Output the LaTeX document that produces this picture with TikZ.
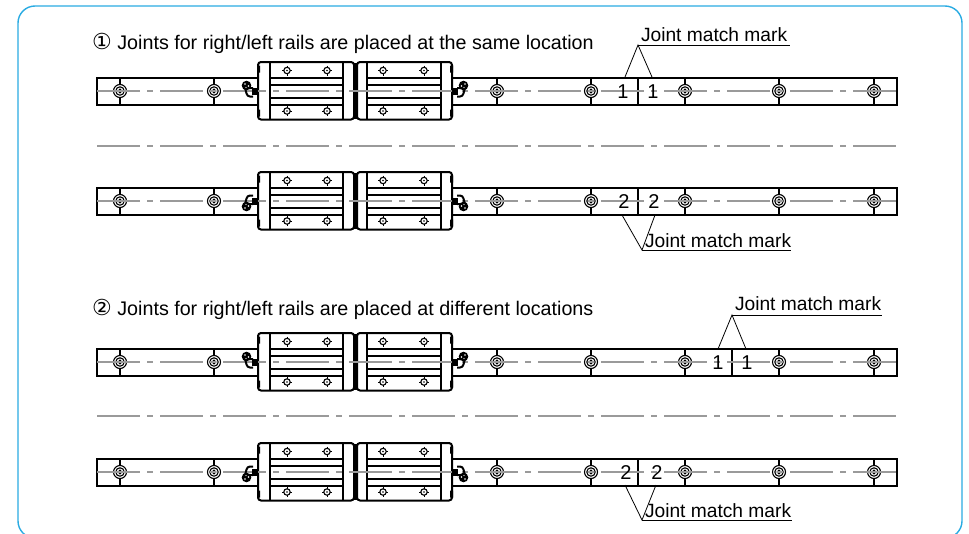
\documentclass[tikz,border=0pt]{standalone}
\usepackage{fontspec}
\setmainfont{Liberation Sans}
\newfontfamily\symfont{DejaVu Sans}
\definecolor{framecol}{HTML}{29ABE2}
\definecolor{centercol}{HTML}{9A9A9A}
\tikzset{
  outline/.style={line width=2pt,black},
  thinline/.style={line width=1.1pt,black},
  centerline/.style={line width=1.6pt,color=centercol,dash pattern=on 43pt off 7pt on 6pt off 7pt},
  leader/.style={line width=.8pt,black},
  caption/.style={font=\fontsize{19.7}{22}\selectfont,anchor=west,inner sep=0pt},
  digit/.style={font=\fontsize{20}{22}\selectfont,inner sep=0pt},
  jointlabel/.style={font=\fontsize{19.2}{22}\selectfont,anchor=south west,inner sep=0pt,outer sep=0pt},
}
\begin{document}
\begin{tikzpicture}[x=1pt,y=-1pt]
  \useasboundingbox (0,0) rectangle (969,533);
  \def\Bolt[#1,#2]{%
    \draw[thinline](#1,#2-13.5)--(#1,#2+14);
    \draw[thinline,fill=white](#1,#2) circle (6.5);
    \draw[thinline](#1,#2) circle (4.2);
    \draw[thinline](#1,#2) circle (1.8);
  }
  \def\Screw[#1,#2]{%
    \draw[thinline,fill=white](#1,#2) circle (3.2);
    \draw[line width=.8pt](#1-5,#2)--(#1-3.2,#2) (#1+3.2,#2)--(#1+5,#2)
                   (#1,#2-5)--(#1,#2-3.2) (#1,#2+3.2)--(#1,#2+5);
    \fill(#1,#2) circle (.8);
  }
  \def\Nipple[#1,#2,#3,#4]{% x, centre y, xscale, yscale
    \begin{scope}[shift={(#1,#2)},xscale=#3,yscale=#4]
      \fill(0,-3.5)rectangle(-6,3.5);
      \draw[outline](-5,-3)--(-13,-3) (-5,5.5)--(-8,5.5) to[out=180,in=-70] (-13,-3);
      \fill[black](-11.5,-5.5) circle (4.8);
      \fill[white](-13,-7) circle (.8) (-9.5,-5) circle (.8) (-12,-3.5) circle (.6);
    \end{scope}
  }
  \def\Block[#1]{% one pair of blocks, centre y
    \foreach \xa/\xb in{258/354, 357/452}{
      \draw[outline,rounded corners=3pt,fill=white](\xa,#1-29)rectangle(\xb,#1+28.5);
    }
    \fill(257,#1-25.5)rectangle(260,#1-18.5) (257,#1+18.5)rectangle(260,#1+25.5)
         (450,#1-25.5)rectangle(453,#1-18.5) (450,#1+18.5)rectangle(453,#1+25.5);
    \fill(353,#1-28.5)rectangle(357,#1+27.5);
    \foreach \x in{270,343,367,441}{
      \draw[outline](\x,#1-29)--(\x,#1+28.5);
    }
    \foreach \xa/\xb in{270/343, 367/441}{
      \draw[outline](\xa,#1-13)--(\xb,#1-13) (\xa,#1+14)--(\xb,#1+14);
      \draw[outline](\xa,#1-6)--(\xb,#1-6) (\xa,#1+6.5)--(\xb,#1+6.5);
    }
    \foreach \x in{287,327,383,424}{
      \Screw[\x,#1-20.5]
      \Screw[\x,#1+20]
    }
  }
  \def\Rail[#1,#2,#3]{% centre y, joint x, nipple yscale
    \draw[outline](97,#1-13.5)rectangle(897,#1+14);
    \draw[outline](#2,#1-13.5)--(#2,#1+14);
    \draw[centerline](97,#1)--(897,#1);
    \foreach \x in{120,214,497,591,685,779,874}{
      \Bolt[\x,#1]
    }
    \Block[#1]
    \draw[centerline](97,#1)--(897,#1);
    \Nipple[258,#1,1,#3]
    \Nipple[452,#1,-1,#3]
  }
  % outer frame, cut by the page at the bottom
  \begin{scope}
    \clip(0,0)rectangle(969,533);
    \draw[line width=1.4pt,color=framecol,rounded corners=17pt](18,6)rectangle(962,538);
  \end{scope}
  % rails
  \Rail[91,638,1]
  \Rail[201,638,-1]
  \Rail[362,732,1]
  \Rail[472,638,-1]
  \draw[centerline](97,146)--(897,146);
  \draw[centerline](97,416)--(897,416);
  % captions
  \node[caption] (capA) at (92,43.5) {{\symfont\fontsize{22}{22}\selectfont ①} Joints for right/left rails are placed at the same location};
  \node[caption] (capB) at (92,309.5) {{\symfont\fontsize{22}{22}\selectfont ②} Joints for right/left rails are placed at different locations};
  % digits at the joints
  \foreach \n/\x/\y/\v in{a/623/91.5/1, b/653/91.5/1, c/624/202/2, d/654/202/2, e/718/362.5/1, f/747/362.5/1, g/626/472.5/2, h/657/472.5/2}{
    \node[digit] (dig\n) at (\x,\y) {\v};
  }
  % joint match labels
  \node[jointlabel] (jmA) at (641,42) {Joint match mark};
  \node[jointlabel] (jmB) at (645,248) {Joint match mark};
  \node[jointlabel] (jmC) at (735,311) {Joint match mark};
  \node[jointlabel] (jmD) at (645,518) {Joint match mark};
  \foreach \n/\x/\y/\xe in{A/638/45/790, B/642/250/791, C/732/315/882, D/642/520/792}{
    \coordinate (lead\n) at (\x,\y);
    \coordinate (leadEnd\n) at (\xe,\y);
    \draw[leader](lead\n)--(leadEnd\n);
  }
  \coordinate (tipA1) at (625,77);  \coordinate (tipA2) at (652,77);
  \coordinate (tipB1) at (622,215); \coordinate (tipB2) at (655,215);
  \coordinate (tipC1) at (718,349); \coordinate (tipC2) at (746,349);
  \coordinate (tipD1) at (625,485); \coordinate (tipD2) at (656,485);
  \draw[leader](tipA1)--(leadA)--(tipA2);
  \draw[leader](tipB1)--(leadB)--(tipB2);
  \draw[leader](tipC1)--(leadC)--(tipC2);
  \draw[leader](tipD1)--(leadD)--(tipD2);
\end{tikzpicture}
\end{document}
